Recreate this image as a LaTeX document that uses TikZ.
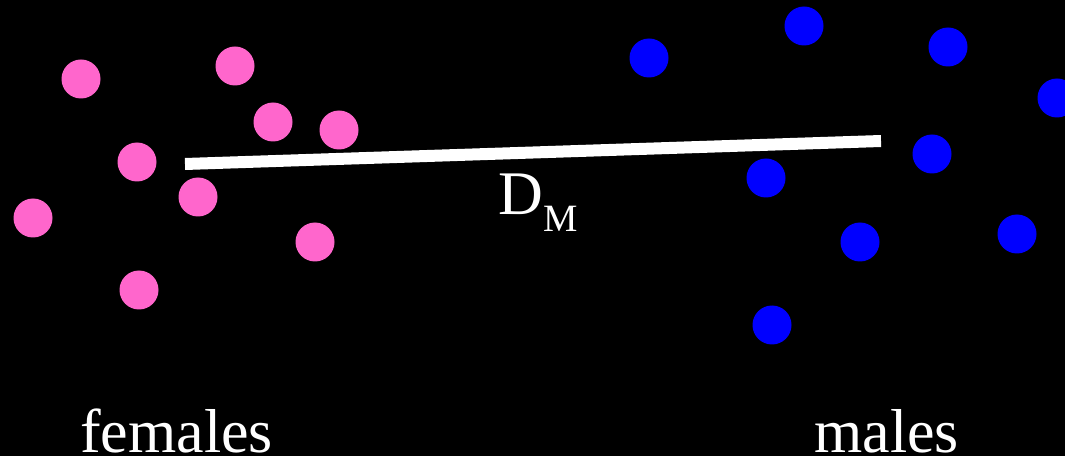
\documentclass[tikz,border=0pt]{standalone}
\usepackage{fontspec}
\setmainfont{Liberation Serif}
\usepackage{xcolor}
\usepackage{tikz}
\usetikzlibrary{calc,positioning}
\definecolor{SceneBack}{HTML}{000000}
\definecolor{FemalePink}{HTML}{FF66CC}
\definecolor{MaleBlue}{HTML}{0000FF}
\definecolor{LabelWhite}{HTML}{FFFFFF}
\tikzset{
    femaledot/.style={circle, fill=FemalePink, minimum size=29.25pt, inner sep=0pt},
    maledot/.style={circle, fill=MaleBlue, minimum size=29.25pt, inner sep=0pt},
    grouplabel/.style={anchor=base west, inner sep=0pt, text=LabelWhite,
        font=\fontsize{46.5}{50}\selectfont}
}
\begin{document}
\begin{tikzpicture}[x=0.75pt, y=-0.75pt]
        \fill[SceneBack] (0,0) rectangle (1065,456);
        \useasboundingbox (0,0) rectangle (1065,456);

        % females
        \foreach \n/\px/\py in {1/81/79, 2/235/66, 3/273/122, 4/339/130, 5/137/162,
                                6/198/197, 7/33/218, 8/315/242, 9/139/290}
            \node[femaledot] (f\n) at (\px,\py) {};

        % males
        \foreach \n/\px/\py in {1/649/58, 2/804/26, 3/948/47, 4/1057/98, 5/932/154,
                                6/766/178, 7/860/242, 8/1017/234, 9/772/325}
            \node[maledot] (m\n) at (\px,\py) {};

        \coordinate (dmleft) at (185,164);
        \coordinate (dmright) at (881,141);
        \draw[LabelWhite, line width=9pt] (dmleft) -- (dmright);

        \node[grouplabel] (dm) at (498,215) {D\raisebox{-12.75pt}{\fontsize{29}{30}\selectfont M}};

        \node[grouplabel] (females) at (80,452) {females};
        \node[grouplabel] (males) at (814,452) {males};
    \end{tikzpicture}
\end{document}
